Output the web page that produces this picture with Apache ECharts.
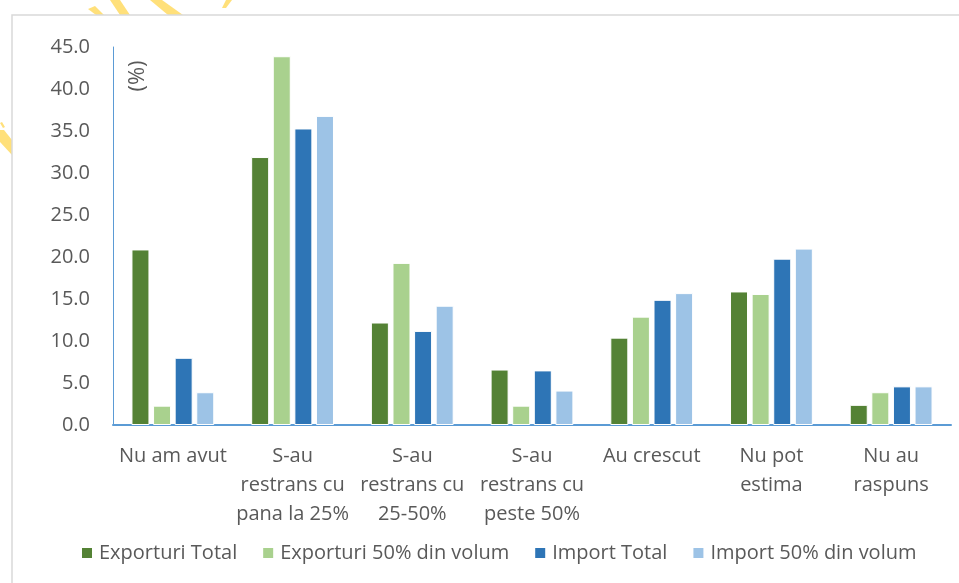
<!DOCTYPE html>
<html>
<head>
<meta charset="utf-8">
<script src="https://cdn.jsdelivr.net/npm/echarts@6/dist/echarts.min.js"></script>
<style>
html,body{margin:0;padding:0;background:#fff;}
#main{width:959px;height:583px;}
</style>
</head>
<body>
<div id="main"></div>
<script>
const categories = ["Nu am avut", "S-au\nrestrans cu\npana la 25%", "S-au\nrestrans cu\n25-50%", "S-au\nrestrans cu\npeste 50%", "Au crescut", "Nu pot\nestima", "Nu au\nraspuns"];
const seriesNames = ["Exporturi Total", "Exporturi 50% din volum", "Import Total", "Import 50% din volum"];
const exporturiTotal = [20.9, 31.9, 12.2, 6.6, 10.4, 15.9, 2.4];
const exporturi50 = [2.3, 43.9, 19.3, 2.3, 12.9, 15.6, 3.9];
const importTotal = [8.0, 35.3, 11.2, 6.5, 14.9, 19.8, 4.6];
const import50 = [3.9, 36.8, 14.2, 4.1, 15.7, 21.0, 4.6];
const colors = ["#548235", "#A9D18E", "#2E75B6", "#9DC3E6"];
const yTicks = { min: 0, max: 45, interval: 5 };

const FONT = "Open Sans";
const chart = echarts.init(document.getElementById('main'), null, {renderer: 'canvas'});
const values = [exporturiTotal, exporturi50, importTotal, import50];
const yellow = "#FFE07A";
chart.setOption({
  animation: false,
  backgroundColor: "#fff",
  textStyle: { fontFamily: FONT },
  graphic: [
    { type: 'rect', shape: { x: 12, y: 15, width: 980, height: 600 }, style: { fill: 'none', stroke: '#D9D9D9', lineWidth: 1.5 }, z: -10 },
    { type: 'polygon', shape: { points: [[88,9],[95,6],[104,15],[96,15]] }, style: { fill: yellow }, z: -20 },
    { type: 'polygon', shape: { points: [[110,0],[120,0],[130,15],[120,15]] }, style: { fill: yellow }, z: -20 },
    { type: 'polygon', shape: { points: [[150,0],[162,0],[183,15],[168,15]] }, style: { fill: yellow }, z: -20 },
    { type: 'polygon', shape: { points: [[226,0],[232,0],[226,8],[222,8]] }, style: { fill: yellow }, z: -20 },
    { type: 'polygon', shape: { points: [[0,130],[4,130],[12,140],[12,155],[0,142]] }, style: { fill: yellow }, z: -20 },
    { type: 'polygon', shape: { points: [[0,123],[2,122],[5,127],[3,128]] }, style: { fill: yellow }, z: -20 },
    { type: 'text', x: 138, y: 76, rotation: Math.PI / 2,
      style: { text: '(%)', fontFamily: FONT, fontSize: 22, fill: '#595959', textAlign: 'center', textVerticalAlign: 'middle' } }
  ],
  legend: {
    data: seriesNames,
    top: 538,
    left: 75,
    itemWidth: 12,
    itemHeight: 12,
    itemGap: 24,
    icon: 'rect',
    textStyle: { fontSize: 20, color: '#595959', fontFamily: FONT, padding: [0, 0, 0, 1] }
  },
  grid: { left: 113, right: 8, top: 47, bottom: 158, containLabel: false },
  xAxis: {
    type: 'category',
    data: categories,
    axisLine: { lineStyle: { color: '#5B9BD5', width: 2 } },
    axisTick: { show: false },
    axisLabel: { interval: 0, fontSize: 20, lineHeight: 29, color: '#595959', margin: 17, fontFamily: FONT }
  },
  yAxis: {
    type: 'value',
    min: yTicks.min, max: yTicks.max, interval: yTicks.interval,
    axisLine: { show: true, lineStyle: { color: '#5B9BD5', width: 1 } },
    axisTick: { show: false },
    splitLine: { show: false },
    axisLabel: { fontSize: 20, color: '#595959', margin: 23, fontFamily: FONT, formatter: v => v.toFixed(1) }
  },
  series: seriesNames.map((n, i) => ({
    name: n,
    type: 'bar',
    data: values[i],
    barWidth: 18,
    barGap: '20%',
    itemStyle: { color: colors[i], borderColor: '#fff', borderWidth: 1 }
  }))
});
</script>
</body>
</html>
